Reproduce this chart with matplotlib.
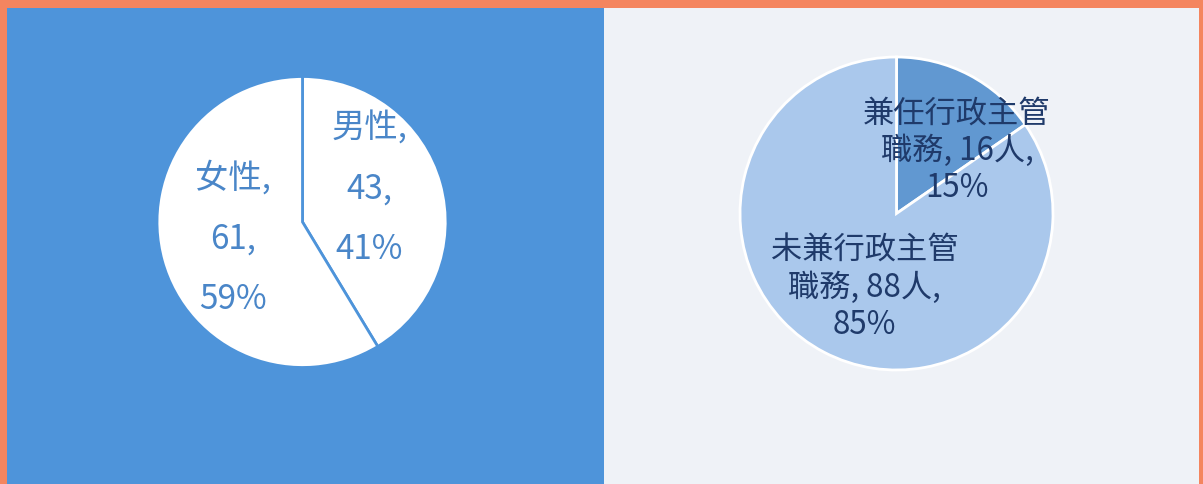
import matplotlib.pyplot as plt

plt.rcParams['font.family'] = ['Noto Sans CJK TC', 'DejaVu Sans']

# left chart: gender
gender_labels = ['男性', '女性']
gender_counts = [43, 61]
gender_pct = ['41%', '59%']

# right chart: admin duty
duty_labels = ['兼任行政主管\n職務', '未兼行政主管\n職務']
duty_counts = [16, 88]
duty_pct = ['15%', '85%']

W, H = 1203, 485
orange = '#F4855F'
left_bg = '#4E94DA'
right_bg = '#EFF2F7'

fig = plt.figure(figsize=(W / 100, H / 100), dpi=100, facecolor=orange)

# ---- left panel ----
ax1 = fig.add_axes([7 / W, 0, 597 / W, 476 / H])
ax1.set_facecolor(left_bg)
c1, r1 = (302.5, 262.0), 145.5
wedges1, _ = ax1.pie(gender_counts, colors=['white', 'white'], startangle=90,
                     counterclock=False, center=c1, radius=r1, frame=True,
                     wedgeprops=dict(edgecolor=left_bg, linewidth=2))
ax1.set_xlim(7, 604)
ax1.set_ylim(0, 476)
ax1.set_aspect('auto')

# label offsets in units of radius
off1 = [(0.457, 0.234), (-0.478, -0.110)]
for lab, n, p, (dx, dy) in zip(gender_labels, gender_counts, gender_pct, off1):
    ax1.text(c1[0] + dx * r1, c1[1] + dy * r1, f'{lab},\n{n},\n{p}',
             ha='center', va='center', fontsize=24, color='#4A86C8',
             linespacing=1.95, multialignment='center')

# ---- right panel ----
ax2 = fig.add_axes([604 / W, 0, 595 / W, 476 / H])
ax2.set_facecolor(right_bg)
c2, r2 = (896.5, 270.5), 156.5
wedges2, _ = ax2.pie(duty_counts, colors=['#6198D1', '#AAC8EC'], startangle=90,
                     counterclock=False, center=c2, radius=r2, frame=True,
                     wedgeprops=dict(edgecolor='white', linewidth=2))
ax2.set_xlim(604, 1199)
ax2.set_ylim(0, 476)
ax2.set_aspect('auto')

off2 = [(0.386, 0.405), (-0.204, -0.470)]
for lab, n, p, (dx, dy) in zip(duty_labels, duty_counts, duty_pct, off2):
    ax2.text(c2[0] + dx * r2, c2[1] + dy * r2, f'{lab}, {n}人,\n{p}',
             ha='center', va='center', fontsize=22.5, color='#1F3A6A',
             linespacing=1.2, multialignment='center')

for ax in (ax1, ax2):
    ax.set_xticks([])
    ax.set_yticks([])
    for s in ax.spines.values():
        s.set_visible(False)

fig.savefig('out.png', dpi=100, facecolor=orange)
